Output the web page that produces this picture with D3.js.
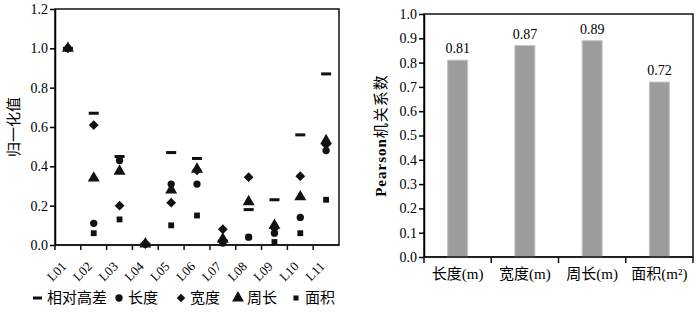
<!DOCTYPE html>
<html>
<head>
<meta charset="utf-8">
<script src="https://cdn.jsdelivr.net/npm/d3@7"></script>
<style>
  body { margin: 0; background: #fff; }
  svg text { font-family: "Liberation Serif", "Times New Roman", "Noto Sans CJK SC", serif !important; fill: #000 !important; }
</style>
</head>
<body>
<div id="chart"></div>
<script>
// left: normalised values per landslide
var sites = ["L01","L02","L03","L04","L05","L06","L07","L08","L09","L10","L11"];
var relHeight = [1.0, 0.67, 0.45, 0.005, 0.47, 0.44, 0.02, 0.18, 0.23, 0.56, 0.87];
var lengthV   = [1.0, 0.11, 0.43, 0.005, 0.31, 0.31, 0.01, 0.04, 0.06, 0.14, 0.48];
var widthV    = [1.0, 0.61, 0.20, 0.005, 0.215, 0.38, 0.08, 0.345, 0.085, 0.35, 0.51];
var perimV    = [1.0, 0.34, 0.375, 0.005, 0.28, 0.385, 0.03, 0.22, 0.10, 0.245, 0.53];
var areaV     = [1.0, 0.06, 0.13, 0.005, 0.10, 0.15, 0.01, 0.04, 0.015, 0.06, 0.23];
var seriesNames = ["相对高差", "长度", "宽度", "周长", "面积"];
var leftTicks = [0, 0.2, 0.4, 0.6, 0.8, 1.0, 1.2];

// right: pearson coefficients
var factors = ["长度(m)", "宽度(m)", "周长(m)", "面积(m²)"];
var pearson = [0.81, 0.87, 0.89, 0.72];
var rightTicks = [0, 0.1, 0.2, 0.3, 0.4, 0.5, 0.6, 0.7, 0.8, 0.9, 1.0];

var svg = d3.select("#chart").append("svg")
    .attr("width", 700).attr("height", 315);

var ink = "#111";

// ---------- left chart ----------
var L = {left: 55, right: 339, top: 9, bottom: 245};
var x1 = d3.scaleBand().domain(sites).range([L.left, L.right]);
var y1 = d3.scaleLinear().domain([0, 1.2]).range([L.bottom, L.top]);

var g1 = svg.append("g");
g1.append("rect")
    .attr("x", L.left).attr("y", L.top)
    .attr("width", L.right - L.left).attr("height", L.bottom - L.top)
    .attr("fill", "none").attr("stroke", ink).attr("stroke-width", 1.5);

var ya1 = g1.append("g").attr("transform", "translate(" + L.left + ",0)")
    .call(d3.axisLeft(y1).tickValues(leftTicks).tickFormat(d3.format(".1f")).tickSize(5).tickSizeOuter(0));
ya1.select(".domain").attr("stroke-width", 1.5);
ya1.selectAll("line").attr("stroke-width", 1.5);
ya1.selectAll("text").style("font-size", "14px").attr("x", -7);

var xa1 = g1.append("g").attr("transform", "translate(0," + L.bottom + ")");
xa1.append("line").attr("x1", L.left).attr("x2", L.right)
    .attr("stroke", ink).attr("stroke-width", 1.5);
xa1.selectAll(".tk").data(sites).enter().append("line")
    .attr("x1", function(d) { return x1(d); }).attr("x2", function(d) { return x1(d); })
    .attr("y1", 0).attr("y2", 5)
    .attr("stroke", ink).attr("stroke-width", 1.5);
xa1.selectAll(".lb").data(sites).enter().append("text")
    .attr("transform", function(d) {
        return "translate(" + (x1(d) + x1.bandwidth() / 2 - 4) + ",19)rotate(-45)";
    })
    .attr("text-anchor", "end")
    .attr("dy", "0.35em")
    .style("font-size", "13px")
    .text(function(d) { return d; });

g1.append("text")
    .attr("transform", "translate(19," + ((L.top + L.bottom) / 2) + ")rotate(-90)")
    .attr("text-anchor", "middle")
    .style("font-size", "15px")
    .text("归一化值");

// markers
var symCircle = d3.symbol().type(d3.symbolCircle).size(42);
var symDiamond = d3.symbol().type(d3.symbolSquare).size(48);
var symTriangle = d3.symbol().type(d3.symbolTriangle).size(62);
var symSquare = d3.symbol().type(d3.symbolSquare).size(34);

function cx(i) { return x1(sites[i]) + x1.bandwidth() / 2; }

g1.selectAll(".dash").data(relHeight).enter().append("rect")
    .attr("x", function(d, i) { return cx(i) - 5; })
    .attr("y", function(d) { return y1(d) - 1.5; })
    .attr("width", 10).attr("height", 3).attr("fill", ink);

var shapes = [[lengthV, symCircle, 0], [widthV, symDiamond, 45], [perimV, symTriangle, 0], [areaV, symSquare, 0]];
shapes.forEach(function(s) {
    g1.selectAll(null).data(s[0]).enter().append("path")
        .attr("d", s[1])
        .attr("transform", function(d, i) { return "translate(" + cx(i) + "," + y1(d) + ")rotate(" + s[2] + ")"; })
        .attr("fill", ink);
});

// legend
var leg = svg.append("g").attr("transform", "translate(0,298)");
var legItems = [
    {x: 38, sym: null, r: 0},
    {x: 119, sym: symCircle, r: 0},
    {x: 181, sym: d3.symbol().type(d3.symbolSquare).size(36), r: 45},
    {x: 238, sym: symTriangle, r: 0},
    {x: 296, sym: d3.symbol().type(d3.symbolSquare).size(26), r: 0}
];
legItems.forEach(function(it, i) {
    if (it.sym === null) {
        leg.append("rect").attr("x", it.x - 5).attr("y", -1.5).attr("width", 9).attr("height", 3).attr("fill", ink);
    } else {
        leg.append("path").attr("d", it.sym)
            .attr("transform", "translate(" + it.x + ",0)rotate(" + it.r + ")").attr("fill", ink);
    }
    leg.append("text").attr("x", it.x + 9).attr("dy", "0.36em")
        .style("font-size", "15px")
        .text(seriesNames[i]);
});

// ---------- right chart ----------
var R = {left: 424, right: 693, top: 14, bottom: 257};
var x2 = d3.scaleBand().domain(factors).range([R.left, R.right]);
var y2 = d3.scaleLinear().domain([0, 1.0]).range([R.bottom, R.top]);
var barW = 20;

var g2 = svg.append("g");
g2.append("rect")
    .attr("x", R.left).attr("y", R.top)
    .attr("width", R.right - R.left).attr("height", R.bottom - R.top)
    .attr("fill", "none").attr("stroke", ink).attr("stroke-width", 1.5);

g2.selectAll(".bar").data(pearson).enter().append("rect")
    .attr("x", function(d, i) { return x2(factors[i]) + x2.bandwidth() / 2 - barW / 2; })
    .attr("y", function(d) { return y2(d); })
    .attr("width", barW)
    .attr("height", function(d) { return R.bottom - y2(d); })
    .attr("fill", "#9c9c9c")
    .attr("stroke", "#c4c4c4").attr("stroke-width", 1);

g2.selectAll(".val").data(pearson).enter().append("text")
    .attr("x", function(d, i) { return x2(factors[i]) + x2.bandwidth() / 2; })
    .attr("y", function(d) { return y2(d) - 7; })
    .attr("text-anchor", "middle")
    .style("font-size", "14px")
    .text(function(d) { return d3.format(".2f")(d); });

var ya2 = g2.append("g").attr("transform", "translate(" + R.left + ",0)")
    .call(d3.axisLeft(y2).tickValues(rightTicks).tickFormat(d3.format(".1f")).tickSize(5).tickSizeOuter(0));
ya2.select(".domain").attr("stroke-width", 1.5);
ya2.selectAll("line").attr("stroke-width", 1.5);
ya2.selectAll("text").style("font-size", "14px").attr("x", -7);

var xa2 = g2.append("g").attr("transform", "translate(0," + R.bottom + ")");
var bounds = factors.map(function(f) { return x2(f); }).concat([R.right]);
xa2.append("line").attr("x1", R.left).attr("x2", R.right)
    .attr("stroke", ink).attr("stroke-width", 1.5);
xa2.selectAll(".tk").data(bounds).enter().append("line")
    .attr("x1", function(d) { return d; }).attr("x2", function(d) { return d; })
    .attr("y1", 0).attr("y2", 6)
    .attr("stroke", ink).attr("stroke-width", 1.5);
xa2.selectAll(".lb").data(factors).enter().append("text")
    .attr("x", function(d) { return x2(d) + x2.bandwidth() / 2; })
    .attr("y", 22)
    .attr("text-anchor", "middle")
    .style("font-size", "15px")
    .text(function(d) { return d; });

g2.append("text")
    .attr("transform", "translate(386," + ((R.top + R.bottom) / 2) + ")rotate(-90)")
    .attr("text-anchor", "middle")
    .style("font-size", "15px")
    .style("letter-spacing", "1px")
    .html('<tspan style="font-weight:bold">Pearson</tspan>机关系数');
</script>
</body>
</html>
